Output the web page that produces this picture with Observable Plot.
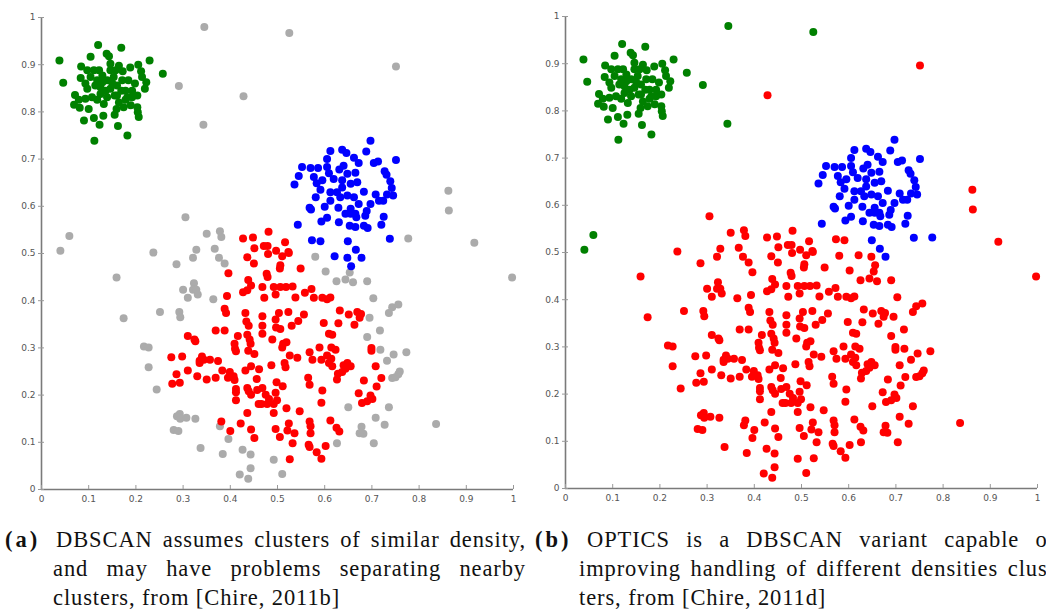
<!DOCTYPE html>
<html><head><meta charset="utf-8">
<script src="https://cdn.jsdelivr.net/npm/d3@7"></script>
<script src="https://cdn.jsdelivr.net/npm/@observablehq/plot@0.6"></script>
<style>
html,body{margin:0;padding:0;background:#fff;}
body{width:1046px;height:612px;overflow:hidden;position:relative;}
#pa,#pb{position:absolute;top:0;}
#pa{left:0;} #pb{left:523px;}
.cap{position:absolute;font-family:"Liberation Serif","Times New Roman",serif;font-size:22.5px;color:#111;line-height:29px;letter-spacing:0.9px;}
.lab{position:absolute;left:0;top:0;font-weight:bold;white-space:nowrap;letter-spacing:3px;}
.body{position:absolute;top:0;}
.j{text-align:justify;text-align-last:justify;white-space:nowrap;}
.l{white-space:nowrap;}
</style></head><body>
<div id="pa"></div><div id="pb"></div>
<div class="cap" style="left:5px;top:525px;">
  <span class="lab">(a)</span>
  <div class="body" style="left:48px;width:473px;">
    <div class="j" id="a1" style="padding-left:3px;"></div><div class="j" id="a2"></div><div class="l" id="a3"></div>
  </div>
</div>
<div class="cap" style="left:535px;top:525px;">
  <span class="lab">(b)</span>
  <div class="body" style="left:44px;width:477px;">
    <div class="j" id="b1" style="padding-left:8px;"></div><div class="j" id="b2"></div><div class="l" id="b3"></div>
  </div>
</div>
<script>
// ---- data (x, y in [0,1]) ----
const greenPts = [[0.038,0.909],[0.046,0.862],[0.120,0.942],[0.169,0.936],[0.104,0.917],[0.138,0.923],[0.143,0.918],[0.229,0.909],[0.257,0.881],[0.205,0.900],[0.188,0.894],[0.084,0.896],[0.083,0.872],[0.146,0.902],[0.071,0.836],[0.069,0.815],[0.081,0.809],[0.100,0.806],[0.090,0.782],[0.112,0.739],[0.123,0.773],[0.111,0.787],[0.131,0.792],[0.162,0.770],[0.182,0.750],[0.155,0.794],[0.206,0.789],[0.204,0.799],[0.219,0.849],[0.222,0.863],[0.211,0.886],[0.198,0.860],[0.184,0.867],[0.172,0.886],[0.146,0.888],[0.122,0.888],[0.104,0.874],[0.114,0.856],[0.129,0.863],[0.153,0.874],[0.160,0.856],[0.169,0.845],[0.155,0.835],[0.139,0.831],[0.125,0.838],[0.107,0.831],[0.093,0.828],[0.097,0.849],[0.118,0.826],[0.132,0.817],[0.164,0.820],[0.178,0.826],[0.192,0.831],[0.203,0.835],[0.189,0.814],[0.174,0.810],[0.159,0.806],[0.203,0.810],[0.213,0.874],[0.192,0.845],[0.178,0.845],[0.146,0.849],[0.136,0.845],[0.118,0.867],[0.097,0.888],[0.093,0.860],[0.079,0.826],[0.150,0.860],[0.157,0.888],[0.164,0.898],[0.139,0.867],[0.129,0.877],[0.111,0.888],[0.171,0.867],[0.160,0.835],[0.125,0.852],[0.182,0.831]];

const bluePts = [[0.697,0.739],[0.688,0.716],[0.751,0.698],[0.612,0.717],[0.637,0.720],[0.646,0.713],[0.605,0.700],[0.662,0.703],[0.672,0.692],[0.704,0.692],[0.713,0.695],[0.552,0.683],[0.570,0.681],[0.586,0.681],[0.605,0.683],[0.631,0.678],[0.640,0.686],[0.545,0.664],[0.536,0.646],[0.577,0.662],[0.583,0.649],[0.595,0.655],[0.609,0.670],[0.619,0.658],[0.648,0.669],[0.665,0.671],[0.669,0.651],[0.727,0.674],[0.731,0.667],[0.739,0.653],[0.742,0.639],[0.745,0.623],[0.732,0.625],[0.708,0.625],[0.683,0.631],[0.655,0.648],[0.637,0.640],[0.626,0.630],[0.612,0.630],[0.591,0.635],[0.581,0.619],[0.612,0.612],[0.633,0.619],[0.648,0.623],[0.662,0.619],[0.672,0.605],[0.697,0.605],[0.715,0.612],[0.724,0.612],[0.568,0.597],[0.571,0.593],[0.600,0.599],[0.629,0.597],[0.655,0.595],[0.665,0.584],[0.689,0.590],[0.686,0.580],[0.725,0.578],[0.605,0.576],[0.593,0.568],[0.630,0.566],[0.644,0.584],[0.655,0.584],[0.667,0.577],[0.543,0.561],[0.653,0.559],[0.665,0.556],[0.683,0.559],[0.691,0.554],[0.720,0.561],[0.649,0.526],[0.738,0.531],[0.666,0.508],[0.678,0.491],[0.637,0.655]];

// blue in DBSCAN, red in OPTICS
const blueToRed = [[0.573,0.528],[0.591,0.526],[0.621,0.494],[0.648,0.491],[0.656,0.473]];

const redPts = [[0.427,0.532],[0.448,0.534],[0.451,0.511],[0.436,0.492],[0.481,0.546],[0.516,0.524],[0.471,0.516],[0.479,0.516],[0.497,0.506],[0.523,0.503],[0.480,0.499],[0.510,0.494],
[0.396,0.458],[0.450,0.479],[0.438,0.444],[0.444,0.432],[0.427,0.418],[0.436,0.422],[0.393,0.410],[0.388,0.383],[0.391,0.374],[0.432,0.374],[0.434,0.356],[0.439,0.347],[0.388,0.337],[0.369,0.337],[0.310,0.325],[0.324,0.318],[0.326,0.314],[0.416,0.325],[0.436,0.328],[0.441,0.318],[0.443,0.309],[0.409,0.309],[0.410,0.298],[0.412,0.293],[0.438,0.294],[0.451,0.287],[0.275,0.280],[0.298,0.282],[0.340,0.282],[0.335,0.273],[0.344,0.275],[0.357,0.275],[0.374,0.272],[0.335,0.268],[0.310,0.252],[0.286,0.244],[0.330,0.240],[0.350,0.233],[0.369,0.237],[0.383,0.252],[0.399,0.249],[0.395,0.237],[0.407,0.240],[0.409,0.232],[0.432,0.252],[0.444,0.261],[0.277,0.224],[0.293,0.226],[0.412,0.213],[0.412,0.206],[0.436,0.215],[0.439,0.208],[0.444,0.201],[0.457,0.211],[0.412,0.189],[0.436,0.162],[0.381,0.144],[0.422,0.140],[0.400,0.124],[0.444,0.127],[0.451,0.109],[0.460,0.181],
[0.524,0.501],[0.506,0.475],[0.505,0.468],[0.549,0.468],[0.477,0.457],[0.479,0.450],[0.468,0.429],[0.492,0.429],[0.506,0.429],[0.518,0.429],[0.532,0.430],[0.472,0.406],[0.496,0.413],[0.538,0.407],[0.558,0.417],[0.572,0.425],[0.577,0.406],[0.595,0.406],[0.605,0.403],[0.612,0.407],[0.468,0.367],[0.503,0.374],[0.523,0.376],[0.556,0.371],[0.496,0.360],[0.544,0.357],[0.530,0.347],[0.468,0.347],[0.497,0.343],[0.506,0.340],[0.468,0.330],[0.489,0.318],[0.598,0.353],[0.629,0.352],[0.632,0.379],[0.651,0.371],[0.669,0.376],[0.677,0.372],[0.674,0.364],[0.663,0.349],[0.609,0.330],[0.616,0.328],[0.512,0.309],[0.519,0.312],[0.510,0.301],[0.589,0.301],[0.614,0.301],[0.623,0.296],[0.568,0.291],[0.699,0.300],[0.699,0.294],[0.526,0.284],[0.542,0.279],[0.574,0.275],[0.593,0.275],[0.605,0.284],[0.614,0.277],[0.609,0.268],[0.616,0.261],[0.640,0.263],[0.648,0.268],[0.655,0.261],[0.644,0.256],[0.637,0.249],[0.628,0.245],[0.626,0.233],[0.708,0.261],[0.515,0.268],[0.517,0.259],[0.487,0.263],[0.565,0.237],[0.568,0.222],[0.498,0.227],[0.511,0.219],[0.683,0.231],[0.720,0.236],[0.710,0.218],[0.595,0.210],[0.672,0.204],[0.697,0.199],[0.496,0.205],[0.475,0.201],[0.482,0.192],[0.466,0.181],[0.478,0.181],[0.492,0.181],[0.499,0.189],[0.679,0.183],[0.690,0.187],[0.701,0.192],[0.593,0.184],[0.519,0.172],[0.547,0.166],[0.492,0.162],[0.612,0.146],[0.625,0.131],[0.631,0.123],[0.568,0.144],[0.570,0.134],[0.570,0.119],[0.524,0.140],[0.521,0.125],[0.536,0.119],[0.496,0.128],[0.505,0.111],[0.532,0.098],[0.566,0.095],[0.568,0.090],[0.583,0.079],[0.602,0.092],[0.593,0.065],[0.526,0.064],
[0.461,0.255],[0.456,0.234],[0.468,0.215]];

// noise in DBSCAN; OPTICS class given by array name
const noiseToRed = [[0.428,0.833],[0.751,0.896],[0.305,0.577],[0.350,0.542],[0.378,0.547],[0.381,0.535],[0.328,0.508],[0.367,0.510],[0.237,0.502],[0.862,0.633],[0.863,0.591],[0.917,0.523],[0.580,0.493],[0.321,0.491],[0.376,0.491],[0.388,0.479],[0.286,0.477],[0.159,0.449],[0.300,0.423],[0.323,0.437],[0.321,0.423],[0.328,0.423],[0.331,0.413],[0.310,0.406],[0.364,0.403],[0.251,0.376],[0.292,0.376],[0.294,0.365],[0.174,0.363],[0.217,0.303],[0.227,0.301],[0.227,0.259],[0.244,0.212],[0.287,0.155],[0.293,0.160],[0.294,0.150],[0.307,0.152],[0.326,0.150],[0.280,0.126],[0.290,0.124],[0.378,0.134],[0.396,0.107],[0.337,0.088],[0.384,0.075],[0.426,0.084],[0.443,0.074],[0.443,0.045],[0.420,0.032],[0.438,0.023],[0.602,0.462],[0.625,0.441],[0.644,0.445],[0.653,0.460],[0.660,0.439],[0.690,0.441],[0.703,0.405],[0.736,0.374],[0.743,0.386],[0.756,0.392],[0.695,0.364],[0.717,0.337],[0.690,0.323],[0.718,0.296],[0.746,0.286],[0.773,0.291],[0.732,0.273],[0.759,0.250],[0.756,0.244],[0.743,0.236],[0.750,0.238],[0.997,0.449],[0.650,0.174],[0.736,0.174],[0.708,0.152],[0.727,0.137],[0.678,0.133],[0.682,0.118],[0.674,0.119],[0.704,0.098],[0.626,0.098],[0.836,0.139],[0.492,0.063],[0.510,0.033]];
const noiseToGreen = [[0.345,0.980],[0.291,0.855],[0.343,0.773],[0.525,0.967],[0.059,0.537],[0.040,0.506]];
const noiseToBlue = [[0.777,0.532]];

const classes = ["noise","green","blue","red"];
const classColors = ["#ababab","#008000","#0000ff","#ff0000"];
const tickValues = [0,0.1,0.2,0.3,0.4,0.5,0.6,0.7,0.8,0.9,1];
const tickLabels = ["0","0.1","0.2","0.3","0.4","0.5","0.6","0.7","0.8","0.9","1"];
const captionA = ["DBSCAN assumes clusters of similar density,","and may have problems separating nearby","clusters, from [Chire, 2011b]"];
const captionB = ["OPTICS is a DBSCAN variant capable of","improving handling of different densities clus-","ters, from [Chire, 2011d]"];

// ---- build tables ----
const rows = (pts, cls) => pts.map(([x, y]) => ({x, y, cls}));
const noiseAll = [...noiseToRed, ...noiseToGreen, ...noiseToBlue];
const dbscan = [
  ...rows(noiseAll, "noise"),
  ...rows(greenPts, "green"),
  ...rows([...bluePts, ...blueToRed], "blue"),
  ...rows(redPts, "red")
];
const optics = [
  ...rows([...greenPts, ...noiseToGreen], "green"),
  ...rows([...bluePts, ...noiseToBlue], "blue"),
  ...rows([...redPts, ...noiseToRed, ...blueToRed], "red")
];

function panel(data, m) {
  const axisColor = "#7a7a7a";
  return Plot.plot({
    width: 523, height: 505,
    marginLeft: m[0], marginRight: m[1], marginTop: m[2], marginBottom: m[3],
    x: {domain: [0, 1]},
    y: {domain: [0, 1]},
    color: {domain: classes, range: classColors},
    style: {fontFamily: "DejaVu Sans, sans-serif", fontSize: "9px", background: "transparent", color: "#555"},
    marks: [
      Plot.ruleY([0], {stroke: axisColor, strokeWidth: 1.6}),
      Plot.ruleX([0], {stroke: axisColor, strokeWidth: 1.6}),
      Plot.axisX({ticks: tickValues, tickFormat: (d, i) => tickLabels[i], tickSize: 4, dy: -4, tickPadding: 6, label: null, stroke: "#999", fill: "#555"}),
      Plot.axisY({ticks: tickValues, tickFormat: (d, i) => tickLabels[i], tickSize: 6, dx: 3, tickPadding: 3, label: null, stroke: "#999", fill: "#555"}),
      Plot.dot(data, {x: "x", y: "y", fill: "cls", r: 4, stroke: "none"})
    ]
  });
}

document.getElementById("pa").append(panel(dbscan, [41, 10, 17, 16]));
document.getElementById("pb").append(panel(optics, [42, 9, 16, 17]));
["a1","a2","a3"].forEach((id, i) => document.getElementById(id).textContent = captionA[i]);
["b1","b2","b3"].forEach((id, i) => document.getElementById(id).textContent = captionB[i]);
</script>
</body></html>
